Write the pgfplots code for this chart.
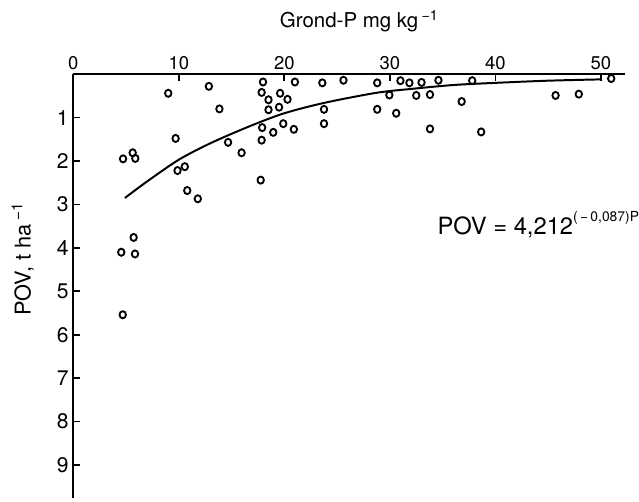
\documentclass[border=0pt]{standalone}
\usepackage{fontspec}
\setmainfont{TeX Gyre Heros}
\usepackage{pgfplots}
\pgfplotsset{compat=1.18}
\begin{document}
\begin{tikzpicture}
\begin{axis}[
 scale only axis, width=418.5pt, height=321pt,
 xmin=0, xmax=52.3, ymin=0, ymax=9.75,
 y dir=reverse,
 axis x line*=top, axis y line*=left,
 axis line style={line width=1.5pt},
 xtick={0,10,...,50}, ytick={1,...,9},
 tick align=inside, major tick length=5pt,
 tick style={line width=1.3pt, black},
 x tick label style={font=\fontsize{14}{14}\selectfont},
 y tick label style={font=\fontsize{16}{16}\selectfont},
 /pgf/number format/assume math mode=true,
 clip=false,
]
\addplot[only marks, mark=o, mark size=2.7pt, mark options={line width=1.4pt, xscale=0.9}] coordinates {
(9.0,0.44) (12.85,0.28) (13.85,0.80) (17.98,0.18) (17.85,0.42) (18.5,0.59)
(18.5,0.82) (19.5,0.76) (19.6,0.44) (20.3,0.58) (9.7,1.48) (14.67,1.57)
(15.95,1.81) (17.9,1.23) (17.85,1.52) (18.95,1.34) (19.9,1.14) (4.72,1.95)
(5.63,1.81) (5.88,1.94) (9.88,2.22) (10.57,2.13) (10.8,2.68) (11.8,2.87)
(17.76,2.44) (5.72,3.76) (4.55,4.1) (5.85,4.14) (4.69,5.54)
(21.0,0.18) (23.6,0.20) (25.6,0.14) (23.76,0.81) (23.76,1.14) (20.9,1.27)
(28.8,0.20) (29.95,0.48) (28.8,0.81) (30.6,0.90) (31.0,0.15) (31.85,0.20)
(33.0,0.19) (34.6,0.14) (32.5,0.49) (33.8,0.47) (33.8,1.26)
(36.8,0.63) (37.8,0.15) (38.65,1.33) (45.7,0.49) (47.9,0.46) (50.97,0.10)
};
\addplot[black, line width=1.5pt, smooth] coordinates {
(4.9,2.85) (7,2.47) (10,1.97) (13,1.59) (16.7,1.2) (20,0.9) (23.8,0.66)
(28.7,0.43) (32,0.34) (36,0.25) (40,0.2) (45,0.15) (50.0,0.12)
};
\node[anchor=base, font=\fontsize{15.5}{15.5}\selectfont] at (axis cs:27.1,-1.07) {Grond-P mg kg\,\textsuperscript{−1}};
\node[rotate=90, font=\fontsize{16.5}{16.5}\selectfont] at (axis cs:-4.8,4.26) {POV, t ha\,\textsuperscript{−1}};
\node[anchor=base west, font=\fontsize{18}{18}\selectfont, inner sep=0pt] at (axis cs:34.5,3.69) {POV = 4,212\raisebox{10pt}{\fontsize{10.5}{10.5}\selectfont (\,−\,0,087)P}};
\path (axis cs:-6.94,-1.708) rectangle (axis cs:53.0,9.84);
\end{axis}
\end{tikzpicture}
\end{document}
